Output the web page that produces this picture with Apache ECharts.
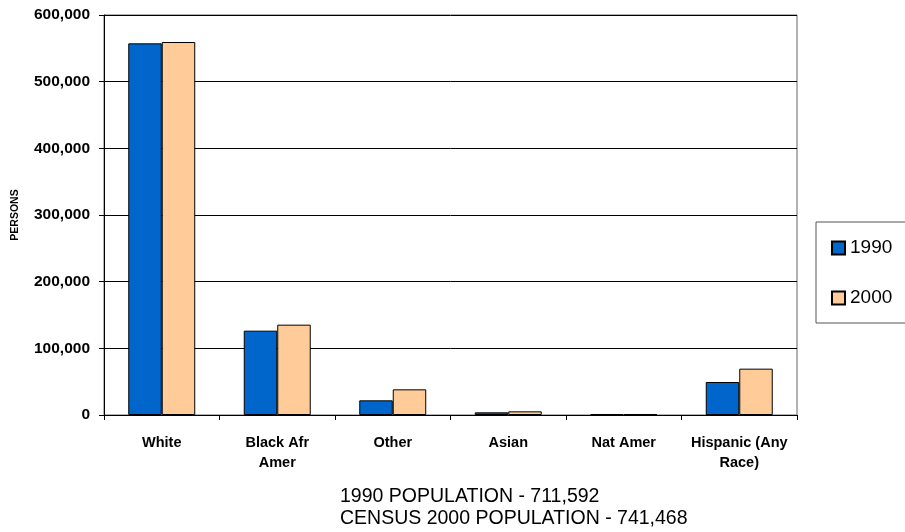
<!DOCTYPE html>
<html>
<head>
<meta charset="utf-8">
<script src="https://cdn.jsdelivr.net/npm/echarts@6/dist/echarts.min.js"></script>
<style>html,body{margin:0;padding:0;background:#fff;}#c{width:905px;height:532px;}</style>
</head>
<body>
<div id="c"></div>
<script>
const categories = ['White', 'Black Afr\nAmer', 'Other', 'Asian', 'Nat Amer', 'Hispanic (Any\nRace)'];
const values1990 = [557500, 126500, 22000, 4000, 1500, 49500];
const values2000 = [559500, 135500, 38500, 5500, 1500, 69500];
const yTicks = [0, 100000, 200000, 300000, 400000, 500000, 600000];
const footLines = ['1990 POPULATION - 711,592', 'CENSUS 2000 POPULATION - 741,468'];

const font = 'Arial, "Liberation Sans", sans-serif';
const chart = echarts.init(document.getElementById('c'), null, {renderer: 'canvas'});
chart.setOption({
  animation: false,
  backgroundColor: '#fff',
  grid: {left: 104, right: 108, top: 15, bottom: 117, show: true, borderColor: '#666', borderWidth: 1},
  legend: {
    orient: 'vertical', left: 816, top: 222,
    padding: [16, 30, 15, 15], itemGap: 30,
    itemWidth: 13, itemHeight: 13, icon: 'rect',
    borderColor: '#555', borderWidth: 1, backgroundColor: '#fff',
    textStyle: {fontFamily: font, fontSize: 19, color: '#000', lineHeight: 20},
    data: ['1990', '2000']
  },
  xAxis: {
    type: 'category', data: categories,
    axisLine: {lineStyle: {color: '#000', width: 1}},
    axisTick: {show: true, inside: false, length: 5, lineStyle: {color: '#000'}},
    axisLabel: {fontFamily: font, fontWeight: 'bold', fontSize: 14.5, color: '#000', margin: 18, lineHeight: 20, interval: 0}
  },
  yAxis: {
    type: 'value', min: 0, max: 600000, interval: 100000,
    name: 'PERSONS', nameLocation: 'middle', nameGap: 83, nameRotate: 90,
    nameTextStyle: {fontFamily: font, fontWeight: 'bold', fontSize: 10.5, color: '#000'},
    axisLine: {show: true, lineStyle: {color: '#000', width: 1}},
    axisTick: {show: true, length: 5, lineStyle: {color: '#000'}},
    splitLine: {show: true, lineStyle: {color: '#000', width: 1}},
    axisLabel: {fontFamily: font, fontWeight: 'bold', fontSize: 15.5, color: '#000', margin: 14,
      formatter: v => yTicks.includes(v) ? v.toLocaleString('en-US') : ''}
  },
  series: [
    {name: '1990', type: 'bar', data: values1990, barGap: '0%', barCategoryGap: '42%',
      itemStyle: {color: '#0066CC', borderColor: '#000', borderWidth: 1}},
    {name: '2000', type: 'bar', data: values2000, barGap: '0%', barCategoryGap: '42%',
      itemStyle: {color: '#FFCC99', borderColor: '#000', borderWidth: 1}}
  ],
  graphic: [
    {type: 'text', left: 340, top: 486,
      style: {text: footLines.join('\n'), font: '19.5px ' + font, fill: '#000', lineHeight: 22}}
  ]
});
</script>
</body>
</html>
